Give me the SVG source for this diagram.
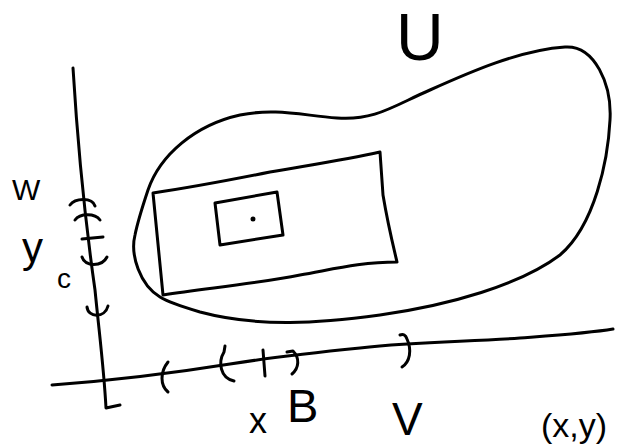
<svg xmlns="http://www.w3.org/2000/svg" width="621" height="445" viewBox="0 0 621 445">
<style>
.s{fill:none;stroke:#000;stroke-width:3;stroke-linecap:round;stroke-linejoin:round}
.t{font-family:"Liberation Sans","DejaVu Sans",sans-serif;fill:#000}
</style>
<rect width="621" height="445" fill="#fff"/>
<g id="U">
<path class="s" d="M160,297 C140,285 130,255 135,235 C138,220 143,205 148,190 C160,155 195,125 240,115 C275,108 300,115 337,118 C375,121 395,105 430,90 C470,72 520,50 565,47 C595,45 612,85 610,120 C608,160 595,225 560,255 C520,285 450,305 380,315 C320,323 260,328 200,312 C180,306 168,302 160,297 Z"/>
<text class="t" x="396" y="60" font-size="66">U</text>
</g>
<g id="outer-rect">
<path class="s" d="M153,193 C200,186 230,180 270,172 C310,165 345,160 380,152 L383,195 C388,225 393,245 397,262 C360,262 330,270 300,275 C260,283 210,288 163,295 Z"/>
</g>
<g id="inner-rect">
<path class="s" d="M215,203 L277,192 L283,235 L220,245 Z"/>
<circle cx="253" cy="219" r="2.5" fill="#000"/>
</g>
<g id="axes">
<path class="s" d="M73,68 C78,150 85,220 95,290 C100,340 104,370 106,408 L120,405"/>
<path class="s" d="M52,385 C120,380 180,372 230,364 C280,356 320,352 360,348 C420,341 470,342 520,338 C560,335 590,333 613,329"/>
</g>
<g id="ticks">
<path class="s" d="M168,362 C160,372 160,385 168,392"/>
<path class="s" d="M225,346 L224,352 C218,362 220,378 234,381"/>
<path class="s" d="M263,350 L265,376"/>
<path class="s" d="M287,352 L293,351 C300,358 299,368 292,374"/>
<path class="s" d="M400,335 Q405,333 407,339 C412,350 410,362 402,367"/>
<path class="s" d="M70,205 C75,198 92,197 95,206"/>
<path class="s" d="M75,220 C80,213 95,213 100,220"/>
<path class="s" d="M82,239 L103,237"/>
<path class="s" d="M82,257 C85,267 102,267 107,257"/>
<path class="s" d="M87,307 C88,318 105,318 108,306"/>
</g>
<g id="labels">
<text class="t" x="12" y="200" font-size="30">W</text>
<text class="t" x="22" y="262" font-size="42">y</text>
<text class="t" x="57" y="288" font-size="28">c</text>
<text class="t" x="249" y="433" font-size="36">x</text>
<text class="t" x="287" y="422" font-size="47">B</text>
<text class="t" x="392" y="435" font-size="46">V</text>
<text class="t" x="541" y="437" font-size="34">(x,y)</text>
</g>
</svg>
